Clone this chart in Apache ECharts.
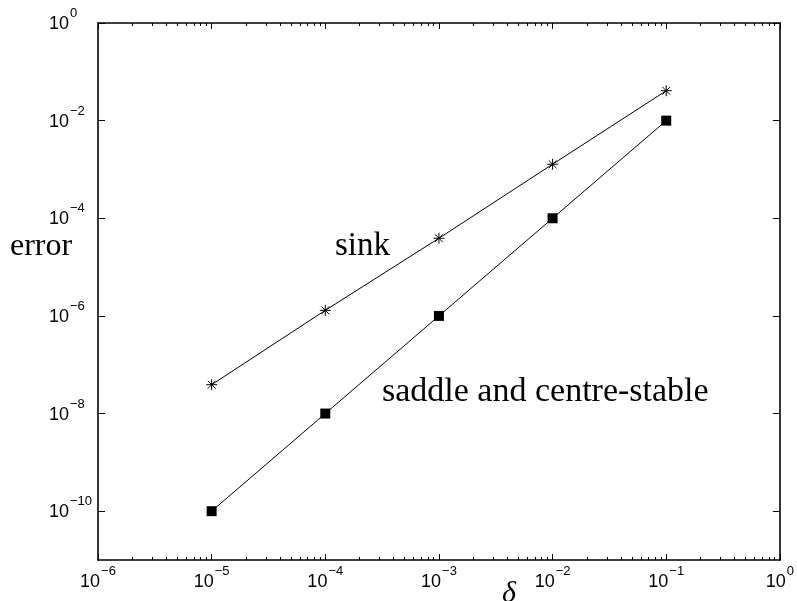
<!DOCTYPE html>
<html>
<head>
<meta charset="utf-8">
<script src="https://cdn.jsdelivr.net/npm/echarts@6/dist/echarts.min.js"></script>
<style>
html,body{margin:0;padding:0;background:#fff;}
#main{width:797px;height:601px;}
</style>
</head>
<body>
<div id="main"></div>
<script>
// ---- data ----
const deltaValues = [1e-5, 1e-4, 1e-3, 1e-2, 1e-1];
const sinkError = [3.9e-8, 1.3e-6, 3.9e-5, 1.28e-3, 4.1e-2];
const saddleError = [1e-10, 1e-8, 1e-6, 1e-4, 1e-2];
const xMajorTicks = [1e-6, 1e-5, 1e-4, 1e-3, 1e-2, 1e-1, 1];
const yMajorTicks = [1e-10, 1e-8, 1e-6, 1e-4, 1e-2, 1];
const minorMultipliers = [2, 3, 4, 5, 6, 7, 8, 9];
const xMinorTicks = [];
for (let k = -6; k < 0; k++) {
  minorMultipliers.forEach(function (m) { xMinorTicks.push(m * Math.pow(10, k)); });
}

const chart = echarts.init(document.getElementById('main'), null, {renderer: 'canvas'});

function expLabel(v) {
  const e = Math.round(Math.log10(v));
  const s = e < 0 ? '\u2212' + Math.abs(e) : String(e);
  return '{b|10}{s|' + s + '}';
}
const richLabel = {
  b: {fontSize: 18, fontFamily: 'Liberation Sans', color: '#000', lineHeight: 20, verticalAlign: 'bottom'},
  s: {fontSize: 13, fontFamily: 'Liberation Sans', color: '#000', lineHeight: 13, verticalAlign: 'bottom', padding: [0, 0, 13, 1]}
};
const lineStyle = {color: '#000', width: 1.6};

function xAxisDef(pos, major, showLabel, showLine) {
  return {
    type: 'log', logBase: 10, min: 1e-6, max: 1, position: pos,
    axisLine: {show: showLine, lineStyle: lineStyle},
    axisTick: {show: true, inside: true, length: major ? 6 : 3, lineStyle: {color: '#000', width: 1},
      customValues: major ? xMajorTicks : xMinorTicks},
    axisLabel: showLabel ? {show: true, margin: 11, fontSize: 18, fontFamily: 'Liberation Sans', color: '#000',
      customValues: xMajorTicks, formatter: expLabel, rich: richLabel} : {show: false},
    splitLine: {show: false}, minorTick: {show: false}, minorSplitLine: {show: false}
  };
}
function yAxisDef(pos, showLabel) {
  return {
    type: 'log', logBase: 10, min: 1e-11, max: 1, position: pos,
    axisLine: {show: true, lineStyle: lineStyle},
    axisTick: {show: true, inside: true, length: 7, lineStyle: {color: '#000', width: 1}, customValues: yMajorTicks},
    axisLabel: showLabel ? {show: true, align: 'left', margin: 49, fontSize: 18, fontFamily: 'Liberation Sans', color: '#000',
      customValues: yMajorTicks, formatter: expLabel, rich: richLabel} : {show: false},
    splitLine: {show: false}, minorTick: {show: false}, minorSplitLine: {show: false}
  };
}

const option = {
  animation: false,
  backgroundColor: '#fff',
  grid: {left: 98, right: 14, top: 23, bottom: 41, containLabel: false},
  xAxis: [
    xAxisDef('bottom', true, true, true),
    xAxisDef('bottom', false, false, false),
    xAxisDef('top', true, false, true),
    xAxisDef('top', false, false, false)
  ],
  yAxis: [
    yAxisDef('left', true),
    yAxisDef('right', false)
  ],
  series: [
    {
      name: 'sink', type: 'line', xAxisIndex: 0, yAxisIndex: 0,
      data: deltaValues.map(function (x, i) { return [x, sinkError[i]]; }),
      symbol: 'path://M0,-10L0,10M-10,0L10,0M-7.07,-7.07L7.07,7.07M-7.07,7.07L7.07,-7.07',
      symbolSize: 11,
      itemStyle: {color: 'rgba(0,0,0,0)', borderColor: '#000', borderWidth: 1},
      lineStyle: {color: '#000', width: 1},
      z: 3
    },
    {
      name: 'saddle and centre-stable', type: 'line', xAxisIndex: 0, yAxisIndex: 0,
      data: deltaValues.map(function (x, i) { return [x, saddleError[i]]; }),
      symbol: 'rect', symbolSize: 10,
      itemStyle: {color: '#000', borderWidth: 0},
      lineStyle: {color: '#000', width: 1},
      z: 3
    }
  ],
  graphic: [
    {type: 'text', x: 10, y: 247, style: {text: 'error', font: '32px "Liberation Serif"', fill: '#000', align: 'left', verticalAlign: 'middle'}},
    {type: 'text', x: 335, y: 246, style: {text: 'sink', font: '33px "Liberation Serif"', fill: '#000', align: 'left', verticalAlign: 'middle'}},
    {type: 'text', x: 382, y: 392, style: {text: 'saddle and centre-stable', font: '34px "Liberation Serif"', fill: '#000', align: 'left', verticalAlign: 'middle'}},
    {type: 'text', x: 502, y: 594, style: {text: 'δ', font: 'italic 30px "Liberation Serif"', fill: '#000', align: 'left', verticalAlign: 'middle'}}
  ]
};
chart.setOption(option);
</script>
</body>
</html>
